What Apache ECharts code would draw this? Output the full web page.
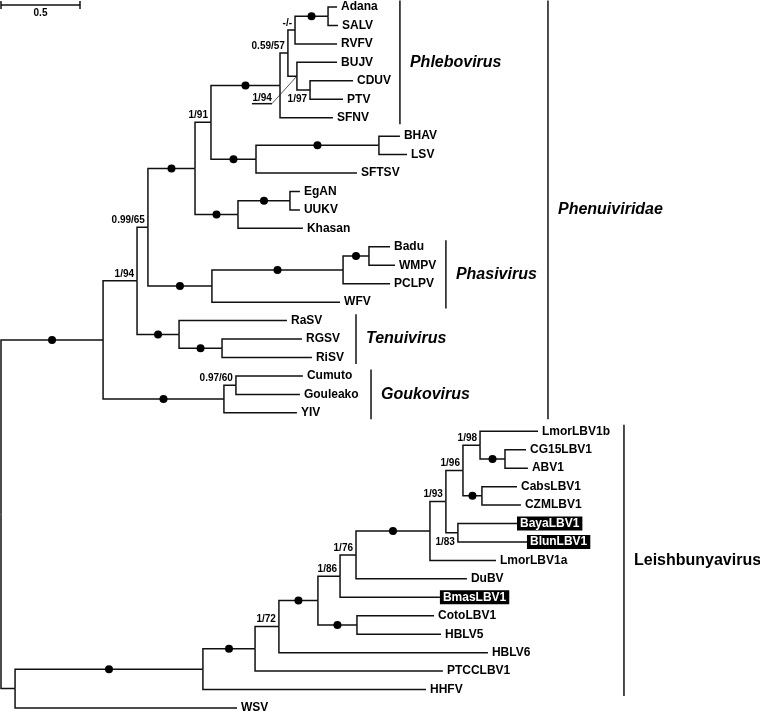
<!DOCTYPE html>
<html><head><meta charset="utf-8">
<script src="https://cdn.jsdelivr.net/npm/echarts@6/dist/echarts.min.js"></script>
<style>html,body{margin:0;padding:0;background:#fff}#c{width:760px;height:712px}</style>
</head><body><div id="c"></div>
<script>
// ---- tree (pre-order), depth = cumulative branch length (subst./site) ----
const nodeIds = ['root','P','Q','R','S','T','V','X','Y','AS','Adana','SALV','RVFV','Z','BUJV','CP','CDUV','PTV','SFNV',
  'W','BL','BHAV','LSV','SFTSV','U','EU','EgAN','UUKV','Khasan','Ph','BWP','BW','Badu','WMPV','PCLPV','WFV',
  'Te','RaSV','RR','RGSV','RiSV','Go','CG','Cumuto','Gouleako','YIV',
  'A','B','C','D','E','F','G','H','I','J','M','LmorLBV1b','N','CG15LBV1','ABV1','L','CabsLBV1','CZMLBV1',
  'K','BayaLBV1','BlunLBV1','LmorLBV1a','DuBV','BmasLBV1','CH','CotoLBV1','HBLV5','HBLV6','PTCCLBV1','HHFV','WSV'];
const nodeParents = [null,'root','P','Q','R','S','T','V','X','Y','AS','AS','Y','X','Z','Z','CP','CP','V',
  'T','W','BL','BL','W','S','U','EU','EU','U','R','Ph','BWP','BW','BW','BWP','Ph',
  'Q','Te','Te','RR','RR','P','Go','CG','CG','Go',
  'root','A','B','C','D','E','F','G','H','I','J','M','M','N','N','J','L','L',
  'I','K','K','H','G','F','E','CH','CH','D','C','B','A'];
const nodeDepths = [0,0.646,0.861,0.930,1.228,1.329,1.766,1.816,1.861,2.070,2.127,2.133,2.127,1.873,2.127,1.956,2.228,2.165,2.101,
  1.614,2.392,2.525,2.570,2.253,1.500,1.829,1.892,1.892,1.911,1.335,2.165,2.329,2.462,2.494,2.462,2.146,
  1.127,1.810,1.399,1.905,1.968,1.411,1.487,1.911,1.892,1.873,
  0.089,1.278,1.608,1.759,2.006,2.146,2.247,2.715,2.816,2.924,3.032,3.399,3.190,3.323,3.335,3.044,3.266,3.291,
  2.892,3.266,3.329,3.133,2.949,2.778,2.253,2.741,2.785,3.082,2.797,2.690,1.494];
const highlighted = ['BayaLBV1','BlunLBV1','BmasLBV1'];
// nodes whose supporting branch carries a full-support dot
const dotNodes = ['P','Go','Te','Ph','S','U','V','W','BL','EU','AS','BWP','BW','RR','B','C','E','CH','H','L','N'];
// support values (PP/bootstrap)
const supportNodes = ['Q','R','T','X','Y','CP','CG','D','F','G','I','J','K','M'];
const supportTexts = ['1/94','0.99/65','1/91','0.59/57','-/-','1/97','0.97/60','1/72','1/86','1/76','1/93','1/96','1/83','1/98'];
const supportSides = ['above','above','above','above','above','below','above','above','above','above','above','above','below','above'];
const leaderNode = 'Z', leaderText = '1/94';
// clade bars
const cladeNames = ['Phlebovirus','Phenuiviridae','Phasivirus','Tenuivirus','Goukovirus','Leishbunyavirus'];
const cladeFirstLeaf = ['Adana','Adana','Badu','RaSV','Cumuto','LmorLBV1b'];
const cladeLastLeaf = ['SFNV','YIV','WFV','RiSV','YIV','HHFV'];
const cladeBarX = [2.525,3.462,2.816,2.247,2.342,3.943];
const cladeItalic = [true,true,true,true,true,false];
const scaleLength = 0.5, scaleLabel = '0.5';

// ---- derived layout ----
const idx = {}; nodeIds.forEach((n,i)=>idx[n]=i);
const children = {}; nodeIds.forEach(n=>children[n]=[]);
nodeIds.forEach((n,i)=>{ if(nodeParents[i]) children[nodeParents[i]].push(n); });
const Y = {}; let leafCount = 0; const leaves = [];
function place(n){
  const ch = children[n];
  if(!ch.length){ Y[n]=leafCount++; leaves.push(n); return Y[n]; }
  ch.forEach(place);
  Y[n] = (Y[ch[0]] + Y[ch[ch.length-1]]) / 2; return Y[n];
}
place('root');
const X = n => nodeDepths[idx[n]];
const FONT = 'Liberation Sans';
const INK = '#111';

const branchData = nodeIds.filter((n,i)=>nodeParents[i]).map(n=>{
  const p = nodeParents[idx[n]]; return [X(p), Y[p], X(n), Y[n]];
});
const dotData = dotNodes.map(n=>{ const p=nodeParents[idx[n]]; return [(X(p)+X(n))/2, Y[n]]; });
const leafData = leaves.map(n=>{
  const hl = highlighted.includes(n);
  return {name:n, value:[X(n), Y[n]], label: hl ? {backgroundColor:'#000', color:'#fff', padding:[1,3,1,3], distance:0} : {}};
});
const supportData = supportNodes.map((n,i)=>({name:supportTexts[i], value:[X(n),Y[n]],
  label:{offset:[0, supportSides[i]==='above' ? -7 : 9]}}));
const cladeData = cladeNames.map((c,i)=>[cladeBarX[i], Y[cladeFirstLeaf[i]]-0.35, Y[cladeLastLeaf[i]]+0.35]);
const cladeLabelData = cladeNames.map((c,i)=>({name:c, value:[cladeBarX[i], (Y[cladeFirstLeaf[i]]+Y[cladeLastLeaf[i]])/2],
  label:{fontStyle: cladeItalic[i]?'italic':'normal'}}));

const solid = {color:'#000', opacity:1};
const chart = echarts.init(document.getElementById('c'), null, {renderer:'canvas'});
chart.setOption({
  animation:false,
  grid:{left:1, right:0, top:7, bottom:4},
  xAxis:{type:'value', min:0, max:4.804, show:false},
  yAxis:{type:'value', min:0, max:leafCount-1, inverse:true, show:false},
  series:[
    {type:'custom', name:'branches', clip:false, data:branchData, silent:true,
     renderItem:(params, api)=>{
       const p0 = api.coord([api.value(0), api.value(1)]);
       const p1 = api.coord([api.value(0), api.value(3)]);
       const p2 = api.coord([api.value(2), api.value(3)]);
       return {type:'polyline', shape:{points:[p0,p1,p2]}, style:{stroke:INK, lineWidth:1.5, fill:'none'}};
     }},
    {type:'scatter', name:'dots', clip:false, data:dotData, symbol:'circle', symbolSize:8, itemStyle:solid, silent:true},
    {type:'scatter', name:'leaves', clip:false, data:leafData, symbolSize:0, silent:true, itemStyle:solid,
     label:{show:true, position:'right', distance:4, formatter:'{b}', color:'#000', opacity:1, fontFamily:FONT, fontWeight:'bold', fontSize:12}},
    {type:'scatter', name:'support', clip:false, data:supportData, symbolSize:0, silent:true, itemStyle:solid,
     label:{show:true, position:'left', distance:3, formatter:'{b}', color:'#000', opacity:1, fontFamily:FONT, fontWeight:'bold', fontSize:10}},
    {type:'custom', name:'leader', clip:false, silent:true, data:[[X(leaderNode), Y[leaderNode]]],
     renderItem:(params, api)=>{
       const p = api.coord([api.value(0), api.value(1)]);
       return {type:'group', children:[
         {type:'line', shape:{x1:p[0]-45, y1:p[1]+27.5, x2:p[0]-25, y2:p[1]+27.5}, style:{stroke:INK, lineWidth:1.5}},
         {type:'line', shape:{x1:p[0]-25, y1:p[1]+27.5, x2:p[0], y2:p[1]}, style:{stroke:INK, lineWidth:0.7}},
         {type:'text', style:{text:leaderText, x:p[0]-25, y:p[1]+22, align:'right', verticalAlign:'middle',
           font:'bold 10px "'+FONT+'"', fill:'#000'}}
       ]};
     }},
    {type:'custom', name:'cladeBars', clip:false, silent:true, data:cladeData,
     renderItem:(params, api)=>{
       const a = api.coord([api.value(0), api.value(1)]);
       const b = api.coord([api.value(0), api.value(2)]);
       return {type:'line', shape:{x1:a[0], y1:a[1], x2:b[0], y2:b[1]}, style:{stroke:INK, lineWidth:1.5}};
     }},
    {type:'scatter', name:'cladeLabels', clip:false, data:cladeLabelData, symbolSize:0, silent:true, itemStyle:solid,
     label:{show:true, position:'right', distance:10, formatter:'{b}', color:'#000', opacity:1, fontFamily:FONT, fontWeight:'bold', fontSize:16}},
    {type:'custom', name:'scaleBar', clip:false, silent:true, data:[[0, -0.11, scaleLength]],
     renderItem:(params, api)=>{
       const a = api.coord([api.value(0), api.value(1)]);
       const b = api.coord([api.value(2), api.value(1)]);
       return {type:'group', children:[
         {type:'line', shape:{x1:a[0], y1:a[1], x2:b[0], y2:b[1]}, style:{stroke:INK, lineWidth:1.5}},
         {type:'line', shape:{x1:a[0], y1:a[1]-4, x2:a[0], y2:a[1]+4}, style:{stroke:INK, lineWidth:1.5}},
         {type:'line', shape:{x1:b[0], y1:b[1]-4, x2:b[0], y2:b[1]+4}, style:{stroke:INK, lineWidth:1.5}},
         {type:'text', style:{text:scaleLabel, x:(a[0]+b[0])/2, y:a[1]+8, align:'center', verticalAlign:'middle',
           font:'bold 10px "'+FONT+'"', fill:'#000'}}
       ]};
     }}
  ]
});
</script></body></html>
